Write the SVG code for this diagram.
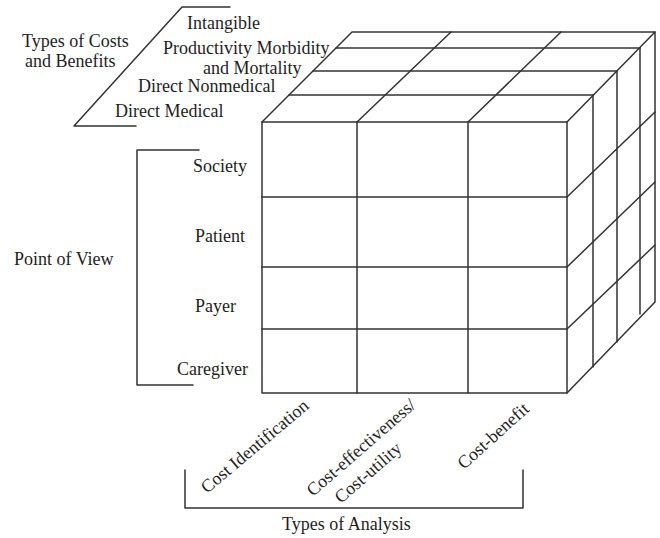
<svg xmlns="http://www.w3.org/2000/svg" width="660" height="538" viewBox="0 0 660 538">
<style>
.ln{stroke:#333;stroke-width:1.5;fill:none;stroke-linecap:round;stroke-linejoin:round}
.t{font-family:"Liberation Serif","Times New Roman",serif;font-size:18px;fill:#1e1e1e}
</style>
<rect width="660" height="538" fill="#fff"/>
<g id="cube" class="ln">
  <path d="M262 122H567V393H262Z"/>
  <path d="M357 122V393M468 122V393M262 197H567M262 267H567M262 329H567"/>
  <path d="M262 122L352 32H655L567 122"/>
  <path d="M289 95H593M313 71H617M336 48H640"/>
  <path d="M357 122L451 32M468 122L561 32"/>
  <path d="M655 32V302L567 393"/>
  <path d="M593 95V367M617 71V342M640 48V314"/>
  <path d="M567 197L655 112M567 267L655 182M567 329L655 245"/>
</g>
<g id="costs">
  <path class="ln" d="M230 7H182L74 126H136"/>
  <text class="t" x="22" y="47">Types of Costs</text>
  <text class="t" x="25" y="67">and Benefits</text>
  <text class="t" x="187" y="29">Intangible</text>
  <text class="t" x="163" y="53.5">Productivity Morbidity</text>
  <text class="t" x="203" y="74">and Mortality</text>
  <text class="t" x="138" y="92">Direct Nonmedical</text>
  <text class="t" x="115" y="117">Direct Medical</text>
</g>
<g id="view">
  <path class="ln" d="M199 150H137V385H193"/>
  <text class="t" x="14" y="265">Point of View</text>
  <text class="t" x="193" y="172">Society</text>
  <text class="t" x="195" y="242">Patient</text>
  <text class="t" x="195" y="312">Payer</text>
  <text class="t" x="177" y="375">Caregiver</text>
</g>
<g id="analysis">
  <path class="ln" d="M185 470V508H523V470"/>
  <text class="t" x="282" y="530">Types of Analysis</text>
  <text class="t" transform="translate(207,494) rotate(-40)">Cost Identification</text>
  <text class="t" transform="translate(313,497) rotate(-41)">Cost-effectiveness/</text>
  <text class="t" transform="translate(341,504) rotate(-41)">Cost-utility</text>
  <text class="t" transform="translate(464,470) rotate(-42)">Cost-benefit</text>
</g>
</svg>
